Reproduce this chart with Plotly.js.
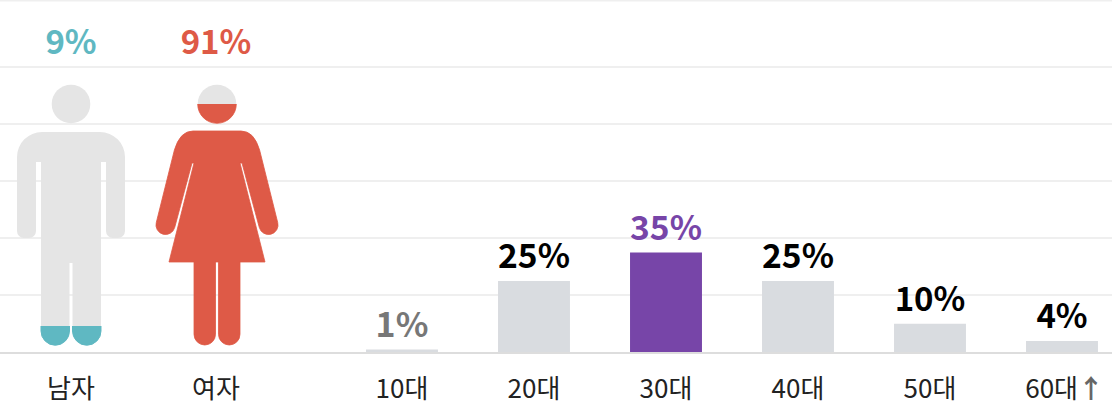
<!DOCTYPE html>
<html><head><meta charset="utf-8">
<script src="https://cdn.plot.ly/plotly-3.0.1.min.js"></script>
<style>html,body{margin:0;padding:0;background:#fff;overflow:hidden}</style>
</head><body><div id="chart" style="width:1112px;height:420px"></div>
<script>
const genderCats = ['남자','여자'];
const genderVals = [9,91];
const genderColors = ['#5fb8c2','#de5a46'];
const ageCats = ['10대','20대','30대','40대','50대','\u200960대<span style="color:#666666"><b>↑</b></span>'];
const ageVals = [1,25,35,25,10,4];
const ageBarColors = ['#d9dce0','#d9dce0','#7745a8','#d9dce0','#d9dce0','#d9dce0'];
const ageTextColors = ['#777777','#000000','#7745a8','#000000','#000000','#000000'];
const ageTextSizes = [34,35,35,35,33,33];
const gridVals = [20,40,60,80,100];
const topGridVal = 123.2;

const W=1112,H=420,ZERO=352.4,SCALE=2.857;
const FONT='"Noto Sans CJK KR","Noto Sans",sans-serif';
const malePath='M42 132L100 132A25 25 0 0 1 125 157L125 231A7 7 0 0 1 118 238L113 238A7 7 0 0 1 106 231L106 162L101 162L101 331A14.25 14.25 0 0 1 72.5 331L72.5 263L69.5 263L69.5 331A14.25 14.25 0 0 1 41 331L41 162L36 162L36 231A7 7 0 0 1 29 238L24 238A7 7 0 0 1 17 231L17 157A25 25 0 0 1 42 132Z';
const femalePath='M193 131L241 131Q254 131 259.6 150L277.7 222.5A9.5 9.5 0 0 1 259.3 227.5L242 163L240 163L265 262L240 262L240 334.25A10.75 10.75 0 0 1 218.5 334.25L218.5 262L215.5 262L215.5 334.25A10.75 10.75 0 0 1 194 334.25L194 262L169 262L194 163L192 163L174.7 227.5A9.5 9.5 0 0 1 156.3 222.5L174.4 150Q180 131 193 131Z';

function person(path,headX,pct,color,boxX,strokeW){
  const boxY=79.7,boxH=270.7,boxW=140;
  const cut=boxY+boxH*(1-pct/100);
  const id='p'+boxX;
  const shape=`<path d="${path}"/><circle cx="${headX}" cy="104" r="19.3"/>`;
  const svg=`<svg xmlns="http://www.w3.org/2000/svg" width="${boxW}" height="${boxH}" viewBox="${boxX} ${boxY} ${boxW} ${boxH}">`+
   `<defs><clipPath id="${id}a"><rect x="${boxX}" y="${boxY}" width="${boxW}" height="${cut-boxY}"/></clipPath>`+
   `<clipPath id="${id}b"><rect x="${boxX}" y="${cut}" width="${boxW}" height="${boxY+boxH-cut}"/></clipPath>`+
   `<filter id="${id}f" x="-5%" y="-5%" width="110%" height="110%"><feGaussianBlur stdDeviation="0.45"/></filter></defs>`+
   `<g filter="url(#${id}f)"><g clip-path="url(#${id}a)" fill="#e5e5e5">${shape}</g>`+
   `<g clip-path="url(#${id}b)" fill="${color}" stroke="${color}" stroke-width="${strokeW}">${shape}</g></g></svg>`;
  return {source:'data:image/svg+xml;charset=utf-8,'+encodeURIComponent(svg),
    xref:'paper',yref:'paper',x:boxX/W,y:1-boxY/H,sizex:boxW/W,sizey:boxH/H,
    xanchor:'left',yanchor:'top',sizing:'stretch',layer:'above'};
}

const genderLabelY=[107.2,107.2];
const traces=[
 {type:'bar',x:ageCats,y:ageVals,xaxis:'x2',yaxis:'y',width:0.545,
  marker:{color:ageBarColors,line:{width:0}},
  text:ageVals.map(v=>v+'%'),textposition:'outside',cliponaxis:false,
  textfont:{color:ageTextColors,size:ageTextSizes,family:FONT,weight:700},hoverinfo:'skip'},
 {type:'scatter',mode:'text',x:genderCats,y:genderLabelY,xaxis:'x',yaxis:'y',
  text:genderVals.map(v=>v+'%'),textposition:'middle center',cliponaxis:false,
  textfont:{color:genderColors,size:33,family:FONT,weight:700},hoverinfo:'skip'}
];
const pos=1-353/H;
const xCommon={type:'category',anchor:'free',position:pos,showgrid:false,zeroline:false,
  ticks:'outside',ticklen:13,tickcolor:'rgba(0,0,0,0)',showline:true,linecolor:'#dddddd',linewidth:2,
  tickfont:{family:FONT,size:26,color:'#222222'},fixedrange:true};
const layout={
 width:W,height:H,margin:{l:0,r:0,t:0,b:0},paper_bgcolor:'#fff',plot_bgcolor:'#fff',showlegend:false,
 font:{family:FONT},
 xaxis:Object.assign({},xCommon,{categoryorder:'array',categoryarray:genderCats,range:[-71/145,(W-71)/145],tickvals:genderCats,ticktext:genderCats}),
 xaxis2:Object.assign({},xCommon,{overlaying:'x',categoryorder:'array',categoryarray:ageCats,range:[-402/132,(W-402)/132]}),
 yaxis:{range:[-(H-ZERO)/SCALE,ZERO/SCALE],tickvals:gridVals,showticklabels:false,ticks:'',showgrid:true,
   gridcolor:'#efefef',gridwidth:2,zeroline:false,fixedrange:true},
 shapes:[{type:'line',xref:'paper',yref:'y',x0:0,x1:1,y0:topGridVal,y1:topGridVal,line:{color:'#efefef',width:2},layer:'below'}],
 images:[person(malePath,71,genderVals[0],genderColors[0],1,1),person(femalePath,217,genderVals[1],genderColors[1],147,0.8)]
};
Plotly.newPlot('chart',traces,layout,{displayModeBar:false,staticPlot:true});
</script></body></html>
